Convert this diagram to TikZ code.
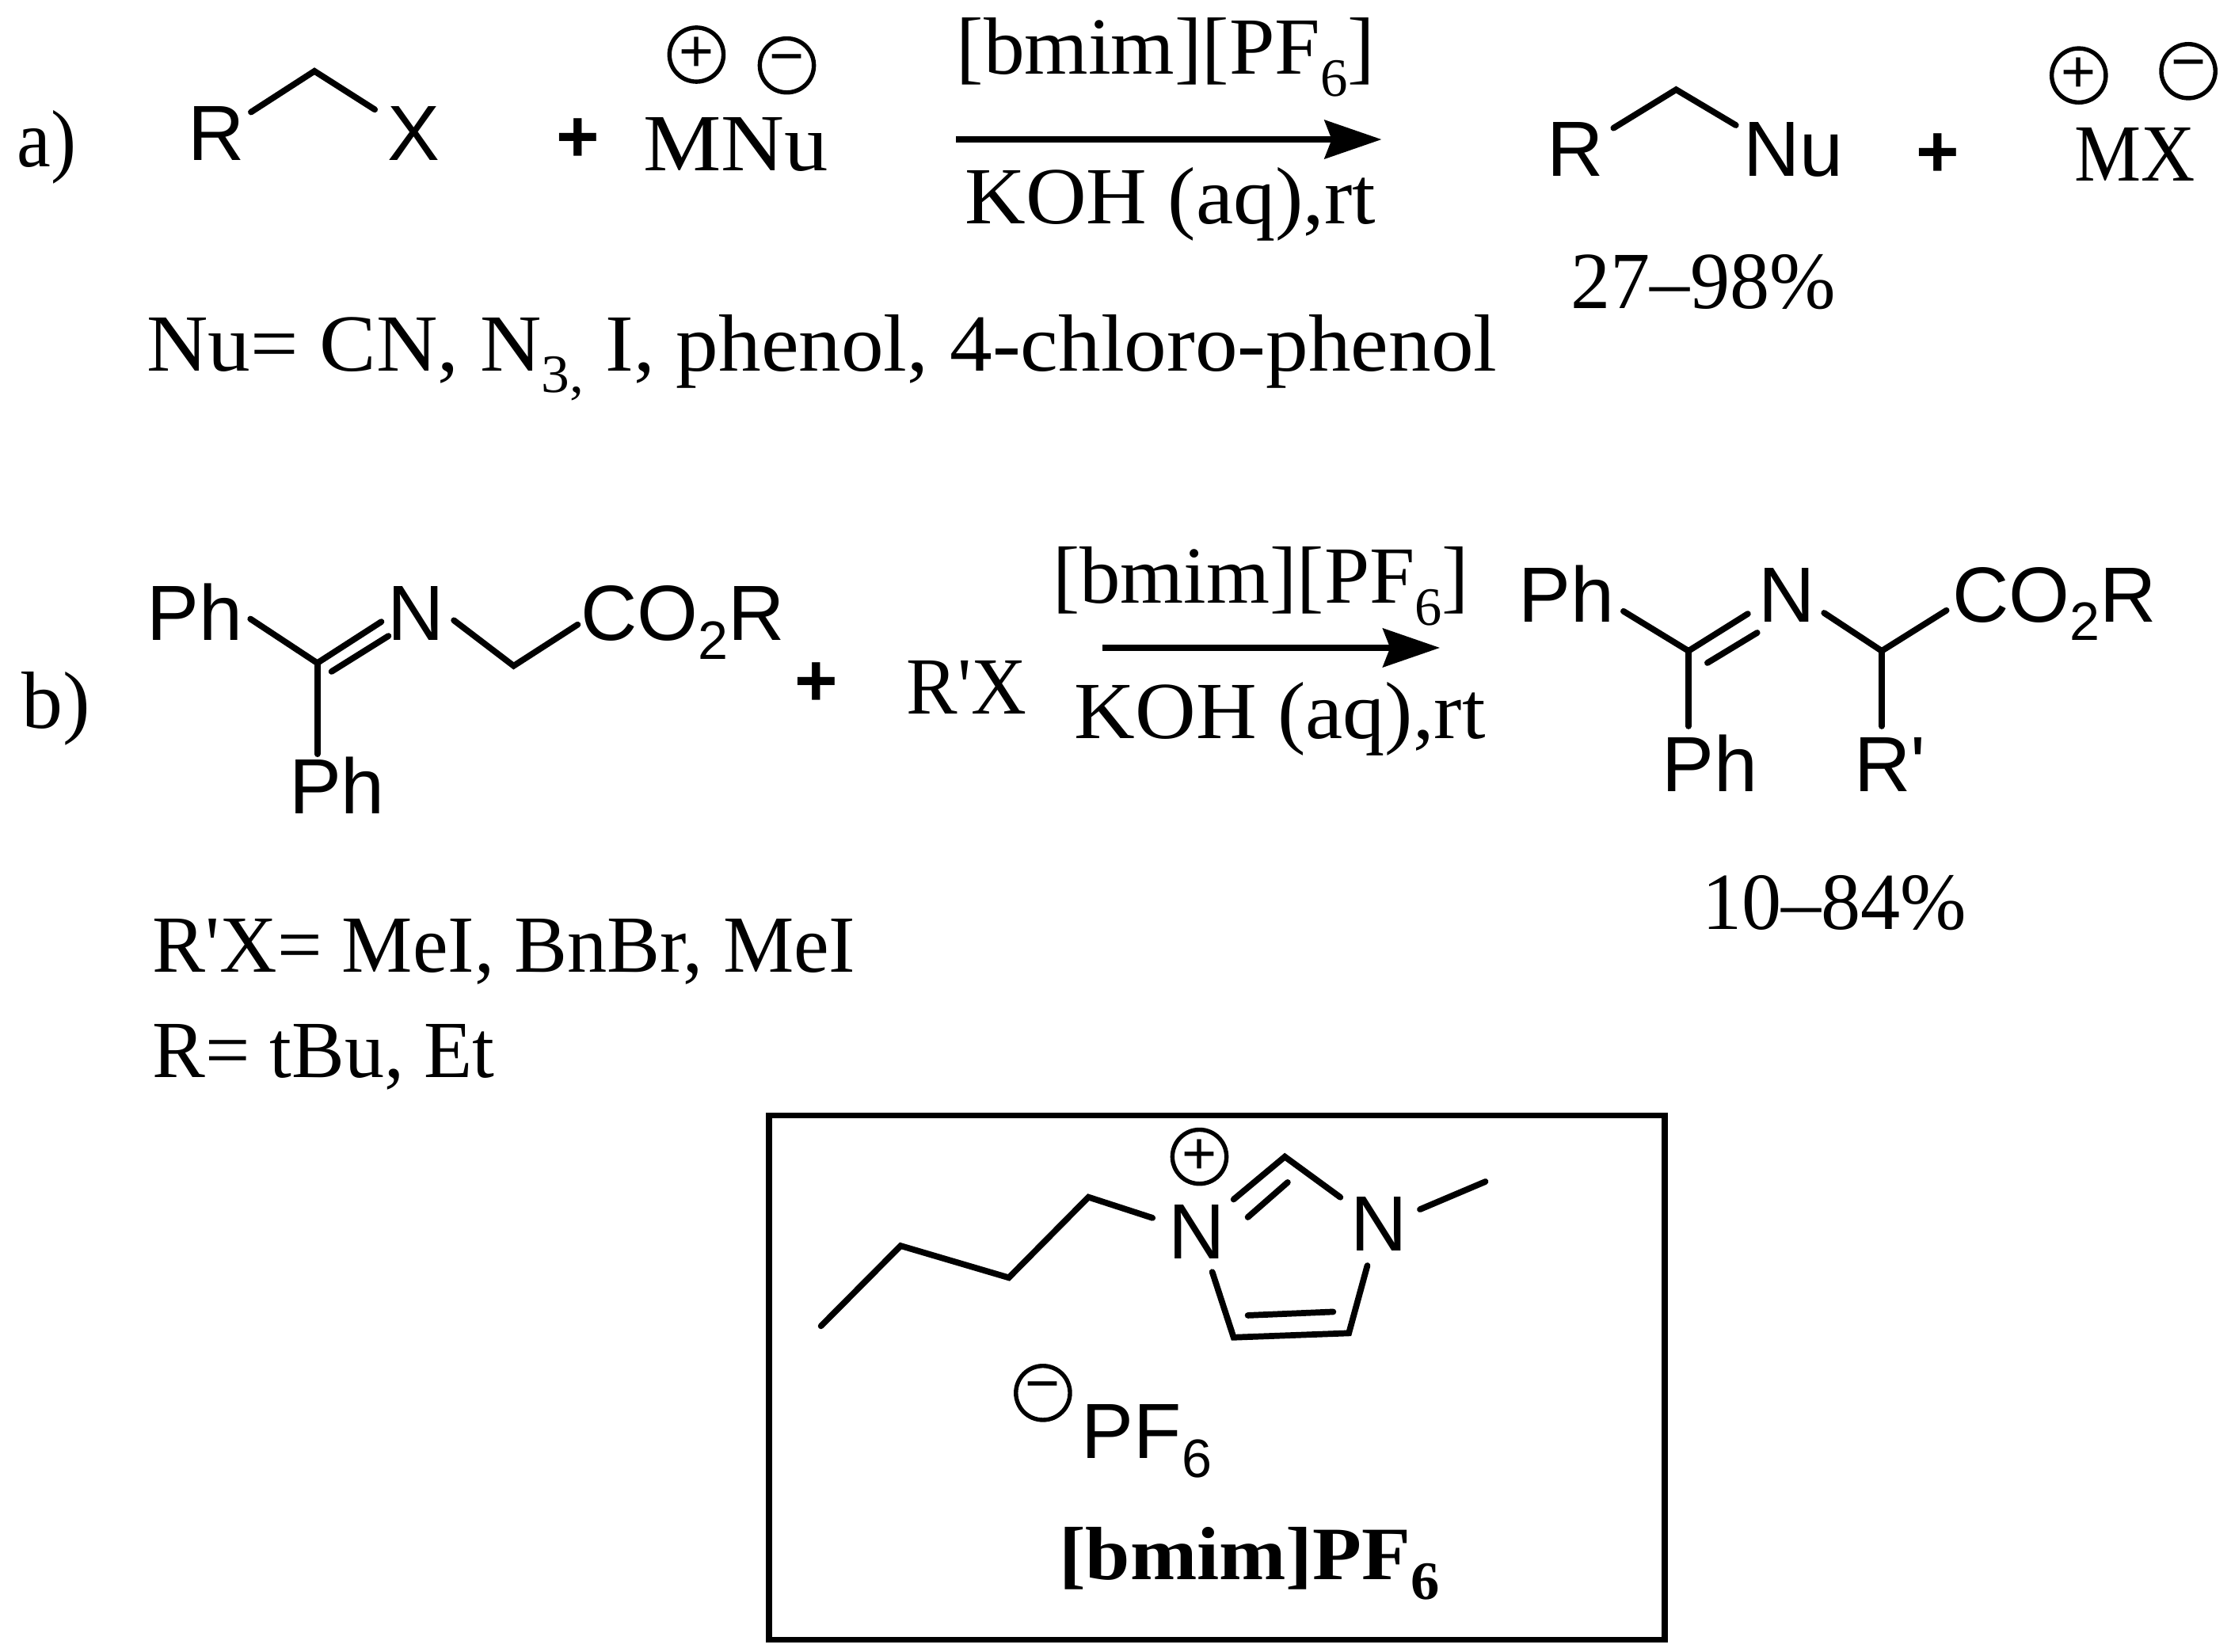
\documentclass[tikz,border=0pt]{standalone}
\usepackage{fontspec}
\usetikzlibrary{arrows.meta}
\newfontfamily\serfam[FakeStretch=1.08]{Liberation Serif}
\newfontfamily\sanfam{Liberation Sans}
\newcommand{\subs}[1]{\raisebox{-0.27em}{\fontsize{38}{40}\selectfont #1}}
\newcommand{\subsn}[1]{\raisebox{-0.24em}{\fontsize{38}{40}\selectfont #1}}
\tikzset{
  ser/.style={anchor=base west,inner sep=0pt,transform shape,font=\serfam\fontsize{57}{60}\selectfont},
  serb/.style={anchor=base west,inner sep=0pt,transform shape,font=\serfam\bfseries\fontsize{53}{56}\selectfont},
  san/.style={anchor=base west,inner sep=0pt,font=\sanfam\fontsize{55}{58}\selectfont},
  pls/.style={anchor=center,inner sep=0pt,font=\sanfam\bfseries\fontsize{52}{54}\selectfont},
  chg/.style={circle,draw,line width=3pt,minimum size=38pt,inner sep=0pt,font=\sanfam\fontsize{42}{44}\selectfont},
  bond/.style={line width=4.3pt,line cap=round,line join=miter},
  rxn/.style={line width=4.5pt,-{Stealth[length=40pt,width=27pt,inset=5pt]}},
  frame/.style={draw,line width=4pt}
}
\begin{document}
\begin{tikzpicture}[x=1pt,y=-1pt]
\useasboundingbox (0,0) rectangle (1568,1160.6);
% ---- a)
\node[ser,xscale=.87] (la) at (12,117) {a)};
\node[san] (aR) at (132,112.5) {R};
\node[san] (aX) at (272,112.5) {X};
\coordinate (a1) at (176.4,78.8); \coordinate (a2) at (221,50); \coordinate (a3) at (263.4,77);
\draw[bond] (a1) -- (a2) -- (a3);
\node[pls] (ap1) at (406,98.5) {+};
\node[ser,xscale=1.0] (aM) at (452,120) {MNu};
\node[chg] (ac1) at (489.5,38.4) {+};
\node[chg] (ac2) at (553,46) {−};
\node[ser,xscale=.935] (ar1) at (672,52) {[bmim][PF\subs{6}]};
\node[ser,xscale=.96] (ar2) at (678,157) {KOH (aq),rt};
\coordinate (aas) at (672,98); \coordinate (aae) at (971,98);
\draw[rxn] (aas) -- (aae);
\node[san] (bR) at (1087,124) {R};
\node[san] (bN) at (1225,124) {Nu};
\coordinate (b1) at (1134,90); \coordinate (b2) at (1178,63); \coordinate (b3) at (1220,88);
\draw[bond] (b1) -- (b2) -- (b3);
\node[pls] (ap2) at (1362,109) {+};
\node[ser,xscale=.855] (aMX) at (1458,127) {MX};
\node[chg] (ac3) at (1461,53) {+};
\node[chg] (ac4) at (1538,50) {−};
\node[ser,xscale=.906] (ay) at (1104,217) {27–98\%};
\node[ser,xscale=.97] (anu) at (103,260.5) {Nu= CN, N\subs{3,} I, phenol, 4-chloro-phenol};
% ---- b)
\node[ser,xscale=.94] (lb) at (15,512) {b)};
\node[san] (cP1) at (103,450) {Ph};
\node[san] (cN) at (272,450) {N};
\node[san] (cC) at (408,450) {CO\subsn{2}R};
\node[san] (cP2) at (203,572) {Ph};
\coordinate (c1) at (176,435); \coordinate (c2) at (223,466); \coordinate (c3) at (268,437);
\coordinate (c4) at (233,472); \coordinate (c5) at (273,447); \coordinate (c6) at (223,530);
\coordinate (c7) at (319,436); \coordinate (c8) at (361,468); \coordinate (c9) at (406,439);
\draw[bond] (c1) -- (c2) -- (c3);
\draw[bond] (c4) -- (c5);
\draw[bond] (c2) -- (c6);
\draw[bond] (c7) -- (c8) -- (c9);
\node[pls] (bp1) at (574,481) {+};
\node[ser,xscale=.875] (bRX) at (637,502) {R'X};
\node[ser,xscale=.93] (br1) at (739.7,424) {[bmim][PF\subs{6}]};
\node[ser,xscale=.96] (br2) at (755,519.3) {KOH (aq),rt};
\coordinate (bas) at (775,455.3); \coordinate (bae) at (1012,455.3);
\draw[rxn] (bas) -- (bae);
\node[san] (dP1) at (1067,437) {Ph};
\node[san] (dN) at (1236,437) {N};
\node[san] (dC) at (1372,437) {CO\subsn{2}R};
\node[san] (dP2) at (1168,556.6) {Ph};
\node[san] (dR) at (1303,556.6) {R'};
\coordinate (d1) at (1141,429.6); \coordinate (d2) at (1186.7,457.5); \coordinate (d3) at (1228.4,431.4);
\coordinate (d4) at (1200,465.9); \coordinate (d5) at (1235,444.7); \coordinate (d6) at (1186.7,510.4);
\coordinate (d7) at (1282,430.8); \coordinate (d8) at (1322.5,457.5); \coordinate (d9) at (1368,429);
\coordinate (d10) at (1322.5,510.4);
\draw[bond] (d1) -- (d2) -- (d3);
\draw[bond] (d4) -- (d5);
\draw[bond] (d2) -- (d6);
\draw[bond] (d7) -- (d8) -- (d9);
\draw[bond] (d8) -- (d10);
\node[ser,xscale=.906] (by) at (1196,653) {10–84\%};
\node[ser,xscale=.908] (brx) at (107,683) {R'X= MeI, BnBr, MeI};
\node[ser,xscale=.905] (brr) at (107,757) {R= tBu, Et};
% ---- box
\coordinate (f1) at (540.5,784); \coordinate (f2) at (1170,1152.5);
\draw[frame] (f1) rectangle (f2);
\coordinate (e1) at (577,932); \coordinate (e2) at (633,875.6); \coordinate (e3) at (709,898);
\coordinate (e4) at (765,841.4); \coordinate (e5) at (810,856);
\draw[bond] (e1) -- (e2) -- (e3) -- (e4) -- (e5);
\node[san] (eN1) at (821,884.5) {N};
\node[san] (eN2) at (949,879) {N};
\node[chg] (ec1) at (843,813) {+};
\coordinate (r1) at (867,843); \coordinate (r2) at (903,813); \coordinate (r3) at (942,841.5);
\coordinate (r4) at (877,855.5); \coordinate (r5) at (905,831);
\coordinate (r6) at (961,889.5); \coordinate (r7) at (948,937); \coordinate (r8) at (867,940);
\coordinate (r9) at (852,894); \coordinate (r10) at (877,924.5); \coordinate (r11) at (937,922);
\coordinate (m1) at (998,850); \coordinate (m2) at (1044,830.5);
\draw[bond] (r1) -- (r2) -- (r3);
\draw[bond] (r4) -- (r5);
\draw[bond] (r6) -- (r7) -- (r8) -- (r9);
\draw[bond] (r10) -- (r11);
\draw[bond] (m1) -- (m2);
\node[chg] (ec2) at (733,979) {−};
\node[san] (ePF) at (760,1025) {PF\subsn{6}};
\node[serb,xscale=.985] (elab) at (744,1110) {[bmim]PF\subs{6}};
\end{tikzpicture}
\end{document}
